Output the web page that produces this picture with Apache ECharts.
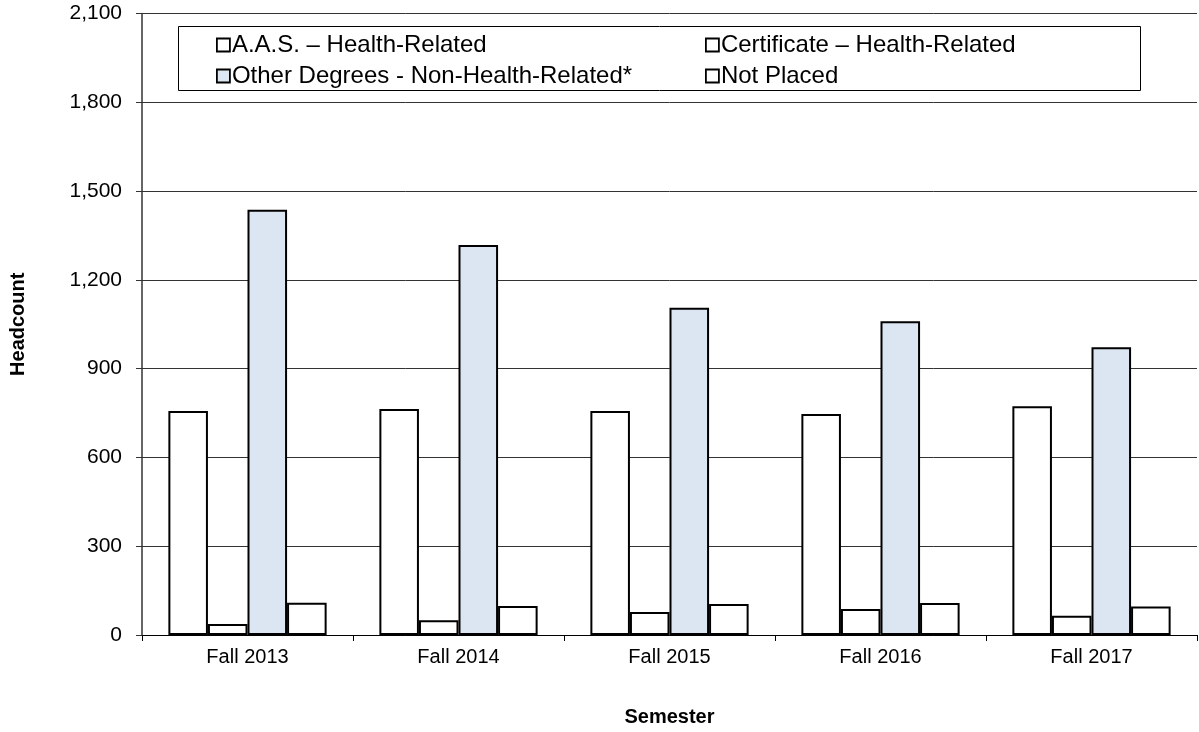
<!DOCTYPE html>
<html>
<head>
<meta charset="utf-8">
<script src="https://cdn.jsdelivr.net/npm/echarts@6/dist/echarts.min.js"></script>
<style>
  html, body { margin: 0; padding: 0; background: #fff; }
  #chart { width: 1199px; height: 732px; }
</style>
</head>
<body>
<div id="chart"></div>
<script>
// Headcount by semester and placement type
const semesters = ['Fall 2013', 'Fall 2014', 'Fall 2015', 'Fall 2016', 'Fall 2017'];
const aasHealth = [757, 764, 757, 747, 773];
const certHealth = [37, 50, 78, 88, 65];
const otherDegrees = [1437, 1318, 1106, 1060, 972];
const notPlaced = [109, 98, 105, 108, 96];
const yTicks = { min: 0, max: 2100, interval: 300 };

const FONT = '"Liberation Sans", Arial, Helvetica, sans-serif';
const LIGHT_BLUE = '#dce6f2';

const chart = echarts.init(document.getElementById('chart'), null, { renderer: 'canvas' });

function barSeries(name, data, fill) {
  return {
    name: name,
    type: 'bar',
    data: data,
    barGap: '0%',
    barCategoryGap: '25%',
    itemStyle: { color: fill, borderColor: '#000', borderWidth: 2 },
    emphasis: { disabled: true }
  };
}

const legendCommon = {
  orient: 'vertical',
  top: 33,
  padding: 0,
  icon: 'rect',
  itemWidth: 13,
  itemHeight: 13,
  itemGap: 7,
  selectedMode: false,
  itemStyle: { borderColor: '#000', borderWidth: 1.8 },
  textStyle: { fontFamily: FONT, fontSize: 24, color: '#000', lineHeight: 24, padding: [0, 0, 0, -3] }
};

chart.setOption({
  animation: false,
  backgroundColor: '#fff',
  textStyle: { fontFamily: FONT },
  grid: { left: 141, right: 2, top: 13.5, bottom: 93.5 },
  graphic: [{
    type: 'rect',
    shape: { x: 178.5, y: 26.5, width: 962, height: 64 },
    style: { fill: '#fff', stroke: '#000', lineWidth: 1 },
    z: 5
  }],
  legend: [
    Object.assign({ left: 216, data: ['A.A.S. \u2013 Health-Related', 'Other Degrees - Non-Health-Related*'], z: 10 }, legendCommon),
    Object.assign({ left: 705, data: ['Certificate \u2013 Health-Related', 'Not Placed'], z: 10 }, legendCommon)
  ],
  xAxis: {
    type: 'category',
    data: semesters,
    name: 'Semester',
    nameLocation: 'middle',
    nameGap: 72,
    nameTextStyle: { fontFamily: FONT, fontSize: 20, fontWeight: 'bold', color: '#000' },
    axisLine: { lineStyle: { color: '#000', width: 1 } },
    axisTick: { show: true, length: 6, lineStyle: { color: '#000' } },
    axisLabel: { fontFamily: FONT, fontSize: 20, color: '#000', margin: 12 },
    splitLine: { show: false }
  },
  yAxis: {
    type: 'value',
    min: yTicks.min,
    max: yTicks.max,
    interval: yTicks.interval,
    name: 'Headcount',
    nameLocation: 'middle',
    nameRotate: 90,
    nameGap: 114,
    nameTextStyle: { fontFamily: FONT, fontSize: 20, fontWeight: 'bold', color: '#000' },
    axisLine: { show: true, lineStyle: { color: '#333', width: 1.5 } },
    axisTick: { show: true, length: 6, lineStyle: { color: '#333' } },
    axisLabel: {
      fontFamily: FONT, fontSize: 21, color: '#000', margin: 20,
      formatter: v => v.toLocaleString('en-US')
    },
    splitLine: { show: true, lineStyle: { color: '#333', width: 1 } }
  },
  series: [
    barSeries('A.A.S. \u2013 Health-Related', aasHealth, '#fff'),
    barSeries('Certificate \u2013 Health-Related', certHealth, '#fff'),
    barSeries('Other Degrees - Non-Health-Related*', otherDegrees, LIGHT_BLUE),
    barSeries('Not Placed', notPlaced, '#fff')
  ]
});
</script>
</body>
</html>
